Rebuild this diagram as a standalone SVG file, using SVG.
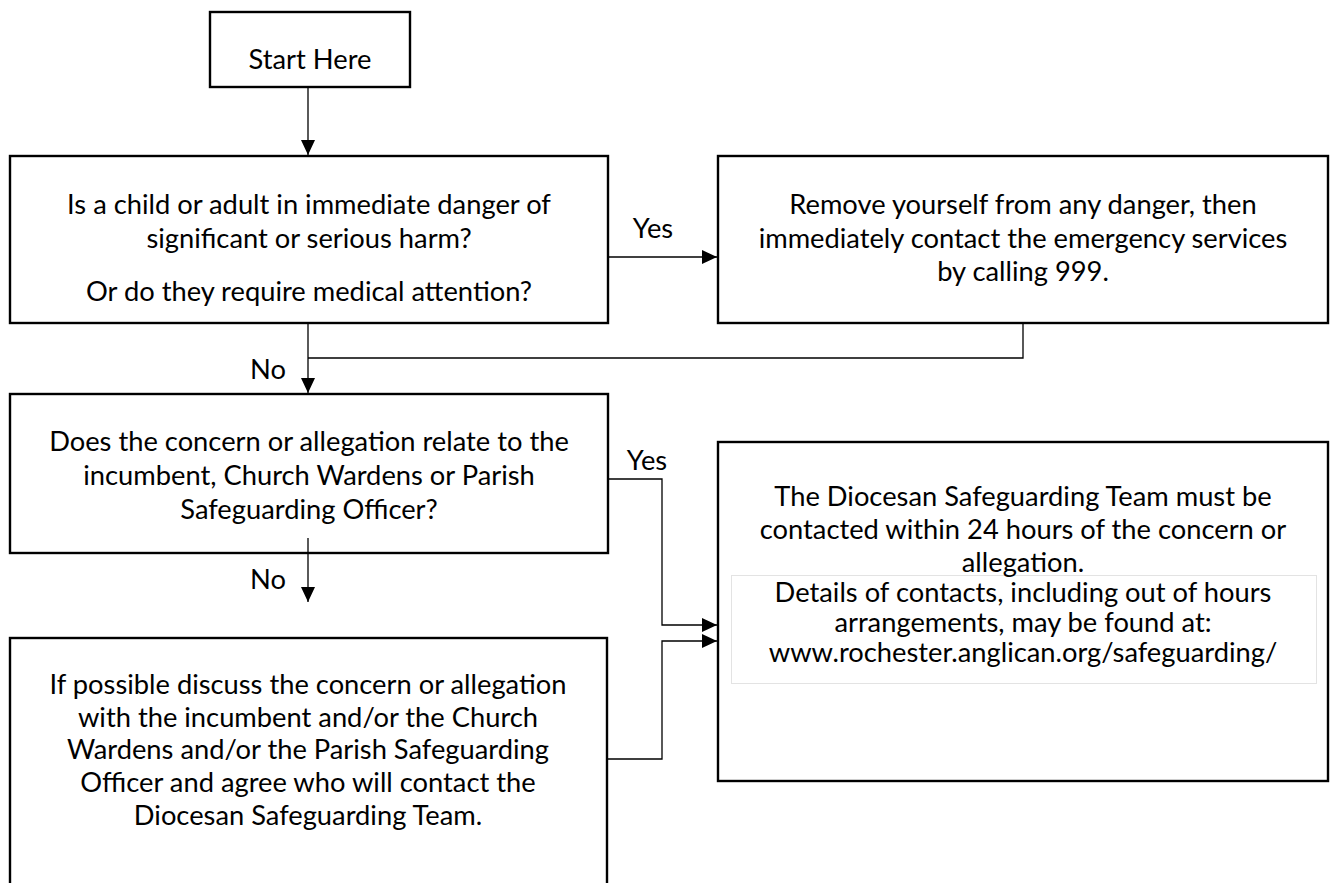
<svg xmlns="http://www.w3.org/2000/svg" width="1337" height="883" viewBox="0 0 1337 883">
<defs>
<style>
.box{fill:#fff;stroke:#000;stroke-width:2.4}
.inner{fill:none;stroke:#e3e3e3;stroke-width:1}
.t{font-family:Lato,"Liberation Sans",sans-serif;font-size:27.3px;fill:#000;text-anchor:middle}
.c{fill:none;stroke:#000;stroke-width:1.3}
</style>
<marker id="ah" markerWidth="15" markerHeight="14" refX="15" refY="7" orient="auto" markerUnits="userSpaceOnUse">
<path d="M0,0 L15,7 L0,14 Z" fill="#000"/>
</marker>
</defs>
<rect width="1337" height="883" fill="#fff"/>
<g id="start">
<rect class="box" x="210" y="12" width="200" height="75"/>
<text class="t" x="310" y="69">Start Here</text>
</g>
<g id="q1">
<rect class="box" x="10" y="156" width="598" height="167"/>
<text class="t" x="309" y="214">Is a child or adult in immediate danger of</text>
<text class="t" x="309" y="248">significant or serious harm?</text>
<text class="t" x="309" y="301">Or do they require medical attention?</text>
</g>
<g id="emergency">
<rect class="box" x="718" y="156" width="610" height="167"/>
<text class="t" x="1023" y="214">Remove yourself from any danger, then</text>
<text class="t" x="1023" y="248">immediately contact the emergency services</text>
<text class="t" x="1023" y="281">by calling 999.</text>
</g>
<g id="q2">
<rect class="box" x="10" y="394" width="598" height="159"/>
<text class="t" x="309" y="451">Does the concern or allegation relate to the</text>
<text class="t" x="309" y="485">incumbent, Church Wardens or Parish</text>
<text class="t" x="309" y="519">Safeguarding Officer?</text>
</g>
<g id="diocesan">
<rect class="box" x="718" y="442" width="610" height="339"/>
<rect class="inner" x="731.5" y="575.5" width="585" height="108"/>
<text class="t" x="1023" y="506">The Diocesan Safeguarding Team must be</text>
<text class="t" x="1023" y="539">contacted within 24 hours of the concern or</text>
<text class="t" x="1023" y="572">allegation.</text>
<text class="t" x="1023" y="602">Details of contacts, including out of hours</text>
<text class="t" x="1023" y="632">arrangements, may be found at:</text>
<text class="t" x="1023" y="662">www.rochester.anglican.org/safeguarding/</text>
</g>
<g id="discuss">
<rect class="box" x="10" y="638" width="597" height="260"/>
<text class="t" x="308" y="694">If possible discuss the concern or allegation</text>
<text class="t" x="308" y="727">with the incumbent and/or the Church</text>
<text class="t" x="308" y="759">Wardens and/or the Parish Safeguarding</text>
<text class="t" x="308" y="792">Officer and agree who will contact the</text>
<text class="t" x="308" y="825">Diocesan Safeguarding Team.</text>
</g>
<g id="connectors">
<path class="c" d="M308,87 V155" marker-end="url(#ah)"/>
<path class="c" d="M608,257 H717" marker-end="url(#ah)"/>
<path class="c" d="M1023,323 V358 H308"/>
<path class="c" d="M308,323 V393" marker-end="url(#ah)"/>
<path class="c" d="M608,479 H662 V625 H717" marker-end="url(#ah)"/>
<path class="c" d="M308,538 V602" marker-end="url(#ah)"/>
<path class="c" d="M607,759 H662 V641 H717" marker-end="url(#ah)"/>
<text class="t" x="653" y="238">Yes</text>
<text class="t" x="268" y="379">No</text>
<text class="t" x="647" y="470">Yes</text>
<text class="t" x="268" y="589">No</text>
</g>
</svg>
